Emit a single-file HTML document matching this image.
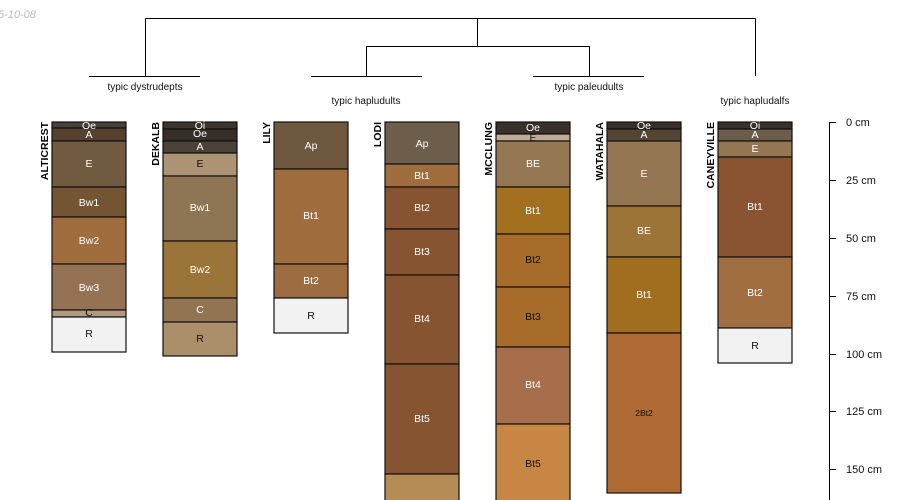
<!DOCTYPE html>
<html><head><meta charset="utf-8"><style>
html,body{margin:0;padding:0;background:#fff;width:900px;height:500px;overflow:hidden}
svg{display:block;font-family:"Liberation Sans",sans-serif}
.h rect{stroke:#111;stroke-width:1.2}
.w{fill:#f4f4f4}
text.l{font-size:10.5px;text-anchor:middle;dominant-baseline:central}
</style></head><body>
<svg width="900" height="500" viewBox="0 0 900 500">
<text x="-2" y="18" font-size="11" font-style="italic" fill="#bbb">5-10-08</text>
<g stroke="#000" stroke-width="1" fill="none">
<path d="M145.5 18.5H755.5M145.5 18.5V76M89 76.5H200M477.5 18.5V46M366 46.5H589.5M366.5 46V76M311 76.5H422M589.5 46V76M533 76.5H644M755.5 18.5V76"/>
</g>
<g font-size="10" text-anchor="middle" fill="#111">
<text x="145" y="90">typic dystrudepts</text>
<text x="366" y="104">typic hapludults</text>
<text x="589" y="90">typic paleudults</text>
<text x="755" y="104">typic hapludalfs</text>
</g>
<g font-size="10.5" font-weight="bold" fill="#000">
<text transform="translate(48,122) rotate(-90)" text-anchor="end">ALTICREST</text>
<text transform="translate(159,122) rotate(-90)" text-anchor="end">DEKALB</text>
<text transform="translate(270,122) rotate(-90)" text-anchor="end">LILY</text>
<text transform="translate(381,122) rotate(-90)" text-anchor="end">LODI</text>
<text transform="translate(492,122) rotate(-90)" text-anchor="end">MCCLUNG</text>
<text transform="translate(603,122) rotate(-90)" text-anchor="end">WATAHALA</text>
<text transform="translate(714,122) rotate(-90)" text-anchor="end">CANEYVILLE</text>
</g>
<g class="h">
<!-- ALTICREST -->
<rect x="52" y="122" width="74" height="6" fill="#4a4038"/>
<rect x="52" y="128" width="74" height="13" fill="#55422e"/>
<rect x="52" y="141" width="74" height="46" fill="#705a40"/>
<rect x="52" y="187" width="74" height="30" fill="#735533"/>
<rect x="52" y="217" width="74" height="47" fill="#a06e3e"/>
<rect x="52" y="264" width="74" height="46" fill="#967254"/>
<rect x="52" y="310" width="74" height="7" fill="#b09a80"/>
<rect x="52" y="317" width="74" height="35" fill="#f2f2f2"/>
<!-- DEKALB -->
<rect x="163" y="122" width="74" height="7" fill="#3e342c"/>
<rect x="163" y="129" width="74" height="12" fill="#362e28"/>
<rect x="163" y="141" width="74" height="12" fill="#4c4238"/>
<rect x="163" y="153" width="74" height="23" fill="#ac9474"/>
<rect x="163" y="176" width="74" height="65" fill="#8e7553"/>
<rect x="163" y="241" width="74" height="57" fill="#9a7438"/>
<rect x="163" y="298" width="74" height="24" fill="#937452"/>
<rect x="163" y="322" width="74" height="34" fill="#ab8e6a"/>
<!-- LILY -->
<rect x="274" y="122" width="74" height="47" fill="#6e5840"/>
<rect x="274" y="169" width="74" height="95" fill="#a06e3e"/>
<rect x="274" y="264" width="74" height="34" fill="#9d6c40"/>
<rect x="274" y="298" width="74" height="35" fill="#f2f2f2"/>
<!-- LODI -->
<rect x="385" y="122" width="74" height="42" fill="#6e5e4c"/>
<rect x="385" y="164" width="74" height="23" fill="#a06e3e"/>
<rect x="385" y="187" width="74" height="42" fill="#875432"/>
<rect x="385" y="229" width="74" height="46" fill="#875432"/>
<rect x="385" y="275" width="74" height="89" fill="#875432"/>
<rect x="385" y="364" width="74" height="110" fill="#875432"/>
<rect x="385" y="474" width="74" height="30" fill="#b48c54"/>
<!-- MCCLUNG -->
<rect x="496" y="122" width="74" height="12" fill="#3a302a"/>
<rect x="496" y="134" width="74" height="7" fill="#c0ac94"/>
<rect x="496" y="141" width="74" height="46" fill="#957754"/>
<rect x="496" y="187" width="74" height="47" fill="#a2701e"/>
<rect x="496" y="234" width="74" height="53" fill="#a86c2a"/>
<rect x="496" y="287" width="74" height="60" fill="#a86c2a"/>
<rect x="496" y="347" width="74" height="77" fill="#a66e4a"/>
<rect x="496" y="424" width="74" height="80" fill="#c88644"/>
<!-- WATAHALA -->
<rect x="607" y="122" width="74" height="7" fill="#3a302a"/>
<rect x="607" y="129" width="74" height="12" fill="#534434"/>
<rect x="607" y="141" width="74" height="65" fill="#947652"/>
<rect x="607" y="206" width="74" height="51" fill="#9c7438"/>
<rect x="607" y="257" width="74" height="76" fill="#a06e1e"/>
<rect x="607" y="333" width="74" height="160" fill="#b06a34"/>
<!-- CANEYVILLE -->
<rect x="718" y="122" width="74" height="7" fill="#3a302a"/>
<rect x="718" y="129" width="74" height="12" fill="#6c5c4c"/>
<rect x="718" y="141" width="74" height="16" fill="#947652"/>
<rect x="718" y="157" width="74" height="100" fill="#8a5432"/>
<rect x="718" y="257" width="74" height="71" fill="#a06e40"/>
<rect x="718" y="328" width="74" height="35" fill="#f2f2f2"/>
</g>
<g fill="#fff">
<text class="l" x="89" y="126">Oe</text><text class="l" x="89" y="135">A</text><text class="l" x="89" y="164">E</text><text class="l" x="89" y="203">Bw1</text><text class="l" x="89" y="241">Bw2</text><text class="l" x="89" y="288">Bw3</text>
<text class="l" x="200" y="126">Oi</text><text class="l" x="200" y="134">Oe</text><text class="l" x="200" y="147">A</text><text class="l" x="200" y="208">Bw1</text><text class="l" x="200" y="270">Bw2</text><text class="l" x="200" y="310">C</text>
<text class="l" x="311" y="146">Ap</text><text class="l" x="311" y="216">Bt1</text><text class="l" x="311" y="281">Bt2</text>
<text class="l" x="422" y="144">Ap</text><text class="l" x="422" y="176">Bt1</text><text class="l" x="422" y="208">Bt2</text><text class="l" x="422" y="252">Bt3</text><text class="l" x="422" y="319">Bt4</text><text class="l" x="422" y="419">Bt5</text>
<text class="l" x="533" y="128">Oe</text><text class="l" x="533" y="164">BE</text><text class="l" x="533" y="211">Bt1</text><text class="l" x="533" y="385">Bt4</text>
<text class="l" x="644" y="126">Oe</text><text class="l" x="644" y="135">A</text><text class="l" x="644" y="174">E</text><text class="l" x="644" y="231">BE</text><text class="l" x="644" y="295">Bt1</text>
<text class="l" x="755" y="126">Oi</text><text class="l" x="755" y="135">A</text><text class="l" x="755" y="149">E</text><text class="l" x="755" y="207">Bt1</text><text class="l" x="755" y="293">Bt2</text>
</g>
<g fill="#111">
<text class="l" x="89" y="313">C</text><text class="l" x="89" y="334">R</text>
<text class="l" x="200" y="164">E</text><text class="l" x="200" y="339">R</text>
<text class="l" x="311" y="316">R</text>
<text class="l" x="533" y="138">E</text><text class="l" x="533" y="260">Bt2</text><text class="l" x="533" y="317">Bt3</text><text class="l" x="533" y="464">Bt5</text>
<text class="l" x="644" y="413" style="font-size:8.5px">2Bt2</text>
<text class="l" x="755" y="346">R</text>
</g>
<g stroke="#000" stroke-width="1"><path d="M829.5 122V500M829 122.5H836M829 180.5H836M829 238.5H836M829 296.5H836M829 354.5H836M829 411.5H836M829 469.5H836"/></g>
<g font-size="11" fill="#111">
<text x="846" y="126">0 cm</text><text x="846" y="184">25 cm</text><text x="846" y="242">50 cm</text><text x="846" y="300">75 cm</text><text x="846" y="358">100 cm</text><text x="846" y="415">125 cm</text><text x="846" y="473">150 cm</text>
</g>
</svg>
</body></html>
